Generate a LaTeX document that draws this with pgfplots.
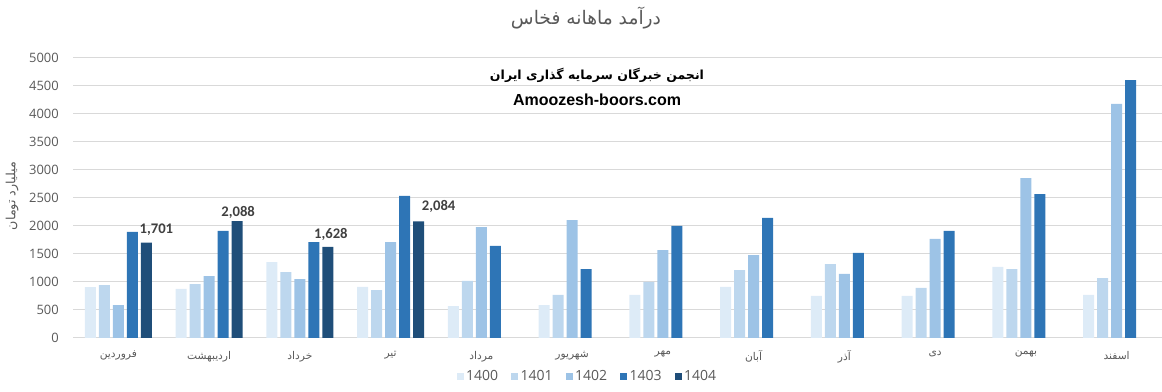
\documentclass[border=0pt]{standalone}
\usepackage{pgfplots}
\pgfplotsset{compat=1.18}
\usepackage{pgfplotstable}
\usepackage{fontspec}
\setmainfont{Open Sans}
\newfontfamily\arabicfont[Script=Arabic]{DejaVu Sans}
\newfontfamily\arabicbold[Script=Arabic]{DejaVu Sans Bold}
\newfontfamily\labfont{Carlito}
\newfontfamily\wmfont{Liberation Sans}
\TeXXeTstate=1
\definecolor{cA}{RGB}{221,235,247}
\definecolor{cB}{RGB}{189,215,238}
\definecolor{cC}{RGB}{157,195,230}
\definecolor{cD}{RGB}{46,117,182}
\definecolor{cE}{RGB}{31,78,121}
\definecolor{gridc}{RGB}{217,217,217}
\definecolor{txt}{RGB}{89,89,89}
\definecolor{lab}{RGB}{64,64,64}

\pgfplotstableread{
x y
0 910
1 875
2 1357
3 911
4 571
5 589
6 768
7 911
8 750
9 750
10 1268
11 768
}\tA
\pgfplotstableread{
x y
0 946
1 964
2 1178
3 857
4 1018
5 768
6 1000
7 1214
8 1321
9 893
10 1232
11 1071
}\tB
\pgfplotstableread{
x y
0 589
1 1107
2 1053
3 1714
4 1982
5 2107
6 1571
7 1482
8 1143
9 1768
10 2857
11 4179
}\tC
\pgfplotstableread{
x y
0 1893
1 1911
2 1714
3 2536
4 1643
5 1232
6 2000
7 2143
8 1518
9 1911
10 2571
11 4607
}\tD
\pgfplotstableread{
x y dx dy
0 1701 38 12.7
1 2088 29 9
2 1628 31 12.8
3 2084 48 15
}\tE

\begin{document}
\begin{tikzpicture}
\path[use as bounding box] (0,0) rectangle (871.5pt,294pt);
\begin{axis}[
  at={(54.75pt,40.5pt)}, anchor=south west,
  scale only axis, width=816.75pt, height=210pt,
  xmin=-0.5, xmax=11.5, ymin=0, ymax=5000,
  ytick={0,500,...,5000},
  xtick={0,...,11},
  xticklabels={{\beginR فروردین\endR},{\beginR اردیبهشت\endR},{\beginR خرداد\endR},{\beginR تیر\endR},{\beginR مرداد\endR},{\beginR شهریور\endR},{\beginR مهر\endR},{\beginR آبان\endR},{\beginR آذر\endR},{\beginR دی\endR},{\beginR بهمن\endR},{\beginR اسفند\endR}},
  xticklabel style={font=\arabicfont\fontsize{8}{9}\selectfont, text=txt, anchor=north, inner sep=0pt, yshift=-9.5pt},
  yticklabel style={font=\fontsize{9.7}{11}\selectfont, text=txt, anchor=east, inner sep=0pt, xshift=-10.5pt},
  /pgf/number format/assume math mode=true,
  /pgf/number format/1000 sep={},
  ymajorgrids, grid style={gridc, line width=0.75pt},
  axis line style={draw=none},
  tick style={draw=none},
  bar width=8.25pt,
  legend columns=5,
  legend style={at={(0.4725,-0.139)}, anchor=center, draw=none, fill=none,
    font=\fontsize{10.5}{12}\selectfont, text=txt,
    /tikz/every even column/.append style={column sep=8pt},
    nodes={inner sep=1.8pt}},
  legend image code/.code={\fill[#1] (0pt,-2.6pt) rectangle (5.25pt,2.6pt);},
]
\addplot[ybar, fill=cA, draw=none, bar shift=-21pt] table[x=x,y=y]{\tA};
\addlegendentry{1400}
\addplot[ybar, fill=cB, draw=none, bar shift=-10.5pt] table[x=x,y=y]{\tB};
\addlegendentry{1401}
\addplot[ybar, fill=cC, draw=none, bar shift=0pt] table[x=x,y=y]{\tC};
\addlegendentry{1402}
\addplot[ybar, fill=cD, draw=none, bar shift=10.5pt] table[x=x,y=y]{\tD};
\addlegendentry{1403}
\addplot[ybar, fill=cE, draw=none, bar shift=21pt,
  visualization depends on={\thisrow{dx}\as\dx},
  visualization depends on={\thisrow{dy}\as\dy},
  nodes near coords={\pgfmathprintnumber[1000 sep={,}]{\pgfplotspointmeta}},
  nodes near coords style={font=\labfont\bfseries\fontsize{11}{12}\selectfont, text=lab,
    anchor=center, inner sep=0pt, xshift=0.75*\dx pt, yshift=0.75*\dy pt},
  ] table[x=x,y=y]{\tE};
\addlegendentry{1404}
\end{axis}
\node[font=\arabicfont\fontsize{14}{16}\selectfont, text=txt] at (439.5pt,280.5pt) {\beginR درآمد ماهانه فخاس\endR};
\node[font=\arabicbold\fontsize{9.4}{11}\selectfont, text=black] at (447.75pt,237.75pt) {\beginR انجمن خبرگان سرمایه گذاری ایران\endR};
\node[font=\wmfont\bfseries\fontsize{12}{14}\selectfont, text=black] at (447.75pt,219pt) {Amoozesh-boors.com};
\node[font=\arabicfont\fontsize{9.5}{11}\selectfont, text=txt, rotate=90] at (9pt,147pt) {\beginR میلیارد تومان\endR};
\end{tikzpicture}
\end{document}
